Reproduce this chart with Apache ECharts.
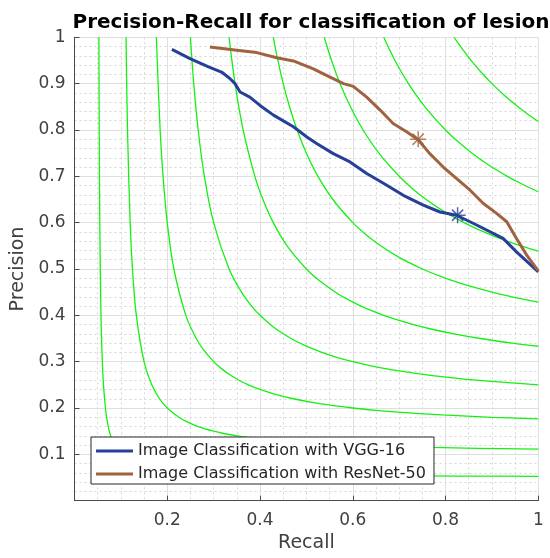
<!DOCTYPE html>
<html>
<head>
<meta charset="utf-8">
<script src="https://cdn.jsdelivr.net/npm/echarts@6/dist/echarts.min.js"></script>
<style>html,body{margin:0;padding:0;background:#fff;}#c{width:550px;height:558px;}</style>
</head>
<body>
<div id="c"></div>
<script>
// ---- data ----
const titleText = 'Precision-Recall for classification of lesion';
const xName = 'Recall';
const yName = 'Precision';
const seriesNames = ['Image Classification with VGG-16', 'Image Classification with ResNet-50'];

const vggRecall = [0.210,0.249,0.289,0.317,0.335,0.346,0.357,0.378,0.400,0.429,0.472,0.501,0.522,0.558,0.594,0.630,0.666,0.709,0.752,0.788,0.824,0.867,0.924,0.953,1.000];
const vggPrecision = [0.974,0.954,0.936,0.925,0.911,0.900,0.882,0.871,0.853,0.832,0.807,0.785,0.771,0.749,0.731,0.706,0.685,0.659,0.638,0.623,0.616,0.595,0.566,0.537,0.494];

const resRecall = [0.292,0.350,0.393,0.436,0.472,0.515,0.551,0.580,0.601,0.630,0.659,0.687,0.716,0.741,0.766,0.795,0.824,0.853,0.881,0.910,0.932,0.953,0.975,1.000];
const resPrecision = [0.979,0.972,0.967,0.956,0.949,0.932,0.914,0.900,0.894,0.871,0.843,0.814,0.796,0.779,0.749,0.720,0.695,0.670,0.642,0.620,0.602,0.566,0.530,0.496];

const vggBest = [0.826, 0.616];
const resBest = [0.741, 0.780];

// iso-F1 curves (recall, precision)
const iso01 = [[0.0526,1],[0.0533,0.8],[0.0545,0.6],[0.0571,0.4],[0.060,0.3],[0.0625,0.25],[0.0667,0.2],[0.070,0.175],[0.075,0.15],[0.0813,0.13],[0.0857,0.12],[0.0917,0.11],[0.100,0.10],[0.1056,0.095],[0.1125,0.09],[0.1214,0.085],[0.1333,0.08],[0.150,0.075],[0.175,0.07],[0.1929,0.0675],[0.2167,0.065],[0.250,0.0625],[0.300,0.060],[0.3441,0.0585],[0.407,0.057],[0.4667,0.056],[0.550,0.055],[0.675,0.054],[0.764,0.0535],[0.8833,0.053],[1,0.0526]];
const iso02 = [[0.1111,1],[0.1143,0.8],[0.120,0.6],[0.125,0.5],[0.1333,0.4],[0.150,0.3],[0.1667,0.25],[0.1833,0.22],[0.200,0.20],[0.225,0.18],[0.2429,0.17],[0.2667,0.16],[0.300,0.15],[0.3222,0.145],[0.350,0.14],[0.3857,0.135],[0.4333,0.13],[0.4636,0.1275],[0.500,0.125],[0.5444,0.1225],[0.600,0.12],[0.6714,0.1175],[0.7667,0.115],[0.8692,0.113],[1,0.1111]];
const iso03 = [[0.1765,1],[0.1846,0.8],[0.1909,0.7],[0.200,0.6],[0.2143,0.5],[0.240,0.4],[0.2625,0.35],[0.275,0.33],[0.300,0.30],[0.3167,0.285],[0.3375,0.27],[0.3545,0.26],[0.375,0.25],[0.400,0.24],[0.4313,0.23],[0.4714,0.22],[0.525,0.21],[0.600,0.20],[0.650,0.195],[0.7125,0.19],[0.7929,0.185],[0.900,0.18],[1,0.1765]];
const iso04 = [[0.250,1],[0.2571,0.9],[0.2667,0.8],[0.280,0.7],[0.300,0.6],[0.3333,0.5],[0.360,0.45],[0.3818,0.42],[0.400,0.40],[0.4286,0.375],[0.4667,0.35],[0.4963,0.335],[0.5333,0.32],[0.5636,0.31],[0.600,0.30],[0.6444,0.29],[0.700,0.28],[0.7714,0.27],[0.8667,0.26],[1,0.25]];
const iso05 = [[0.3333,1],[0.3462,0.9],[0.3636,0.8],[0.3889,0.7],[0.4063,0.65],[0.4286,0.6],[0.4583,0.55],[0.500,0.50],[0.5278,0.475],[0.5625,0.45],[0.5878,0.435],[0.6176,0.42],[0.6406,0.41],[0.6667,0.40],[0.6964,0.39],[0.7308,0.38],[0.7708,0.37],[0.8182,0.36],[0.875,0.35],[0.9444,0.34],[1,0.3333]];
const iso06 = [[0.4286,1],[0.4385,0.95],[0.450,0.9],[0.4636,0.85],[0.480,0.8],[0.500,0.75],[0.525,0.7],[0.5571,0.65],[0.600,0.60],[0.6273,0.575],[0.660,0.55],[0.700,0.525],[0.750,0.50],[0.7865,0.485],[0.8294,0.47],[0.900,0.45],[0.9429,0.44],[1,0.4286]];
const iso07 = [[0.5385,1],[0.5542,0.95],[0.5727,0.9],[0.595,0.85],[0.6222,0.8],[0.6563,0.75],[0.700,0.70],[0.7269,0.675],[0.7583,0.65],[0.7955,0.625],[0.840,0.60],[0.8713,0.585],[0.9068,0.57],[0.9476,0.555],[1,0.5385]];
const iso08 = [[0.6667,1],[0.6909,0.95],[0.720,0.9],[0.7556,0.85],[0.800,0.80],[0.8267,0.775],[0.8571,0.75],[0.8923,0.725],[0.9333,0.70],[0.9614,0.685],[1,0.6667]];
const iso09 = [[0.8182,1],[0.855,0.95],[0.8763,0.925],[0.900,0.90],[0.9265,0.875],[0.9563,0.85],[0.976,0.835],[1,0.8182]];

const xTicks = [0.2, 0.4, 0.6, 0.8, 1];
const yTicks = [0.1, 0.2, 0.3, 0.4, 0.5, 0.6, 0.7, 0.8, 0.9, 1];

// ---- chart ----
const FONT = 'DejaVu Sans';
const blue = '#263f98';
const brown = '#a0623f';
const axisCol = '#4a4a4a';

const isoCurves = [iso01, iso02, iso03, iso04, iso05, iso06, iso07, iso08, iso09];
const isoSeries = isoCurves.map(c => ({
  type: 'line', data: c, showSymbol: false, silent: true,
  smooth: 0.35,
  lineStyle: { color: '#14f014', width: 1.3 }, z: 2
}));

function zip(a, b) { return a.map((v, i) => [v, b[i]]); }
const starPath = 'path://M50,0L50,100M0,50L100,50M15,15L85,85M15,85L85,15';

const chart = echarts.init(document.getElementById('c'), null, { renderer: 'canvas' });
chart.setOption({
  animation: false,
  backgroundColor: '#fff',
  title: {
    text: titleText, left: 306, top: 8, textAlign: 'center',
    textStyle: { fontFamily: FONT, fontWeight: 'bold', fontSize: 20, color: '#000' }
  },
  grid: { left: 74.5, right: 11.7, top: 37.3, bottom: 57.3, containLabel: false },
  legend: {
    data: seriesNames, orient: 'vertical', left: 91, top: 437,
    padding: [4, 8, 0, 5], itemGap: 3, itemWidth: 37, itemHeight: 3, icon: 'rect',
    borderColor: '#262626', borderWidth: 1, backgroundColor: '#fff',
    textStyle: { fontFamily: FONT, fontSize: 16, color: '#262626', lineHeight: 20 }
  },
  xAxis: {
    type: 'value', min: 0, max: 1, interval: 0.2,
    name: xName, nameLocation: 'middle', nameGap: 33,
    nameTextStyle: { fontFamily: FONT, fontSize: 19, color: '#404040' },
    axisLine: { show: true, lineStyle: { color: axisCol, width: 1 } },
    axisTick: { show: true, inside: true, length: 5, lineStyle: { color: axisCol } },
    axisLabel: { fontFamily: FONT, fontSize: 17, color: '#404040', margin: 11,
      formatter: v => (xTicks.some(t => Math.abs(t - v) < 1e-9) ? String(+v.toFixed(2)) : '') },
    splitLine: { show: true, lineStyle: { color: '#dfdfdf', width: 1 } },
    minorTick: { show: false, splitNumber: 4 },
    minorSplitLine: { show: true, lineStyle: { color: '#d6d6d6', width: 1, type: [2, 3] } }
  },
  yAxis: {
    type: 'value', min: 0, max: 1, interval: 0.1,
    name: yName, nameLocation: 'middle', nameGap: 46, nameRotate: 90,
    nameTextStyle: { fontFamily: FONT, fontSize: 19, color: '#404040' },
    axisLine: { show: true, lineStyle: { color: axisCol, width: 1 } },
    axisTick: { show: true, inside: true, length: 5, lineStyle: { color: axisCol } },
    axisLabel: { fontFamily: FONT, fontSize: 17, color: '#404040', margin: 9,
      formatter: v => (yTicks.some(t => Math.abs(t - v) < 1e-9) ? String(+v.toFixed(2)) : '') },
    splitLine: { show: true, lineStyle: { color: '#dfdfdf', width: 1 } },
    minorTick: { show: false, splitNumber: 5 },
    minorSplitLine: { show: true, lineStyle: { color: '#d6d6d6', width: 1, type: [2, 3] } }
  },
  series: isoSeries.concat([
    { name: seriesNames[0], type: 'line', data: zip(vggRecall, vggPrecision), showSymbol: false,
      lineStyle: { color: blue, width: 3 }, itemStyle: { color: blue }, z: 5 },
    { name: seriesNames[1], type: 'line', data: zip(resRecall, resPrecision), showSymbol: false,
      lineStyle: { color: brown, width: 3 }, itemStyle: { color: brown }, z: 6 },
    { type: 'scatter', data: [vggBest], symbol: starPath, symbolSize: 16, z: 8,
      itemStyle: { color: 'none', borderColor: blue, borderWidth: 1.5 } },
    { type: 'scatter', data: [resBest], symbol: starPath, symbolSize: 16, z: 8,
      itemStyle: { color: 'none', borderColor: brown, borderWidth: 1.5 } }
  ])
});
</script>
</body>
</html>
